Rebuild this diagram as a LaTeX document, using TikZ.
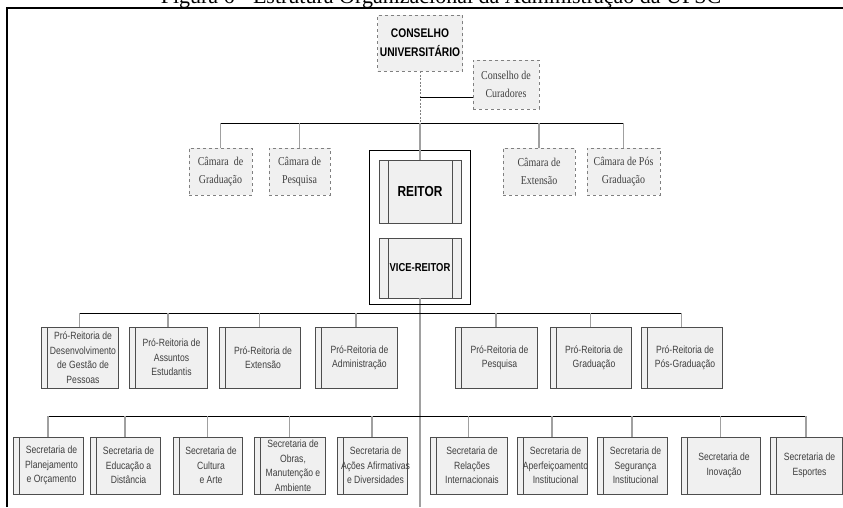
\documentclass[tikz,border=0pt]{standalone}
\usepackage{fontspec}
\setmainfont{Liberation Serif}
\newfontfamily\narrowsans[FakeStretch=0.82]{Liberation Sans}
\newfontfamily\narrowserif[FakeStretch=0.83]{Liberation Serif}
\newfontfamily\captionserif{Liberation Serif}

\definecolor{boxfill}{HTML}{F0F0F0}
\definecolor{boxline}{HTML}{4D4D4D}
\definecolor{dropgray}{HTML}{A0A0A0}
\definecolor{dashgray}{HTML}{808080}
\definecolor{labelgray}{HTML}{404040}

\tikzset{
  x=1pt, y=-1pt,
  framestyle/.style={line width=2pt, black},
  barline/.style={line width=0.9pt, black},
  dropline/.style={line width=1.4pt, dropgray},
  dashline/.style={line width=1pt, dashgray, dash pattern=on 2pt off 1.5pt},
  % dashed council boxes
  councilbox/.style={draw=dashgray, dashed, line width=0.9pt, fill=boxfill,
    inner sep=0pt, align=center},
  chamberbox/.style={councilbox, text=labelgray,
    font=\narrowserif\fontsize{12}{18}\selectfont},
  % boxes with a doubled left edge
  unitbox/.style={draw=boxline, line width=0.8pt, fill=boxfill, inner sep=0pt,
    path picture={\draw[boxline, line width=0.8pt]
      ([xshift=6pt]path picture bounding box.north west) --
      ([xshift=6pt]path picture bounding box.south west);}},
  unittext/.style={inner sep=0pt, align=center, text=labelgray,
    font=\narrowsans\fontsize{10.5}{14.5}\selectfont},
  % boxes with doubled left and right edges
  rectorbox/.style={draw=boxline, line width=0.8pt, fill=boxfill,
    inner sep=0pt, align=center, minimum width=82pt,
    path picture={\draw[boxline, line width=0.8pt]
      ([xshift=9pt]path picture bounding box.north west) --
      ([xshift=9pt]path picture bounding box.south west)
      ([xshift=-9pt]path picture bounding box.north east) --
      ([xshift=-9pt]path picture bounding box.south east);}},
}

% box with doubled left edge and its label: name, x, y, width, height, text
\newcommand{\unitnode}[6]{%
  \node[unitbox, minimum width=#4pt, minimum height=#5pt] (#1) at (#2,#3) {};
  \node[unittext] (#1-label) at ([xshift=3.5pt]#1.center) {#6};}

\begin{document}
\begin{tikzpicture}
\useasboundingbox (0,0) rectangle (843,507);

% heading, cut by the top edge
\node[anchor=base, inner sep=0pt, font=\captionserif\fontsize{22}{22}\selectfont]
  (heading) at (441,3) {Figura 6 - Estrutura Organizacional da Administração da UFSC};

% outer frame
\draw[framestyle] (6.5,507) -- (6.5,7.5) -- (843,7.5);

% junction coordinates
\coordinate (chamberbar) at (420,123);
\coordinate (curj) at (420,97);
\coordinate (probar) at (420,313);
\coordinate (secbar) at (420,416);
\coordinate (spineend) at (420,507);

% top councils
\node[councilbox, minimum width=85pt, minimum height=56pt,
  font=\narrowsans\bfseries\fontsize{12.5}{19}\selectfont] (cons) at (420,43)
  {CONSELHO\\UNIVERSITÁRIO};
\node[chamberbox, minimum width=66pt, minimum height=49pt] (cur) at (506,84.5)
  {Conselho de\\Curadores};

% chambers
\node[chamberbox, minimum width=63pt, minimum height=47pt] (c1) at (220.5,171.5) {Câmara~ de\\Graduação};
\node[chamberbox, minimum width=61pt, minimum height=47pt] (c2) at (299.5,171.5) {Câmara de\\Pesquisa};
\node[chamberbox, minimum width=72pt, minimum height=47pt] (c3) at (539,171.5) {Câmara de\\Extensão};
\node[chamberbox, minimum width=73pt, minimum height=47pt] (c4) at (623.5,171.5) {Câmara de Pós\\Graduação};

% rectorate frame
\node[draw=black, line width=0.9pt, fill=white, minimum width=101pt,
  minimum height=154pt, inner sep=0pt] (rectorate) at (420,227) {};

% connectors of the upper part
\draw[dashline] (cons.south) -- (cons.south |- chamberbar);
\draw[barline] (curj) -- (curj -| cur.west);
\draw[barline] (c1.north |- chamberbar) -- (c4.north |- chamberbar);
\foreach \n in {c1,c2,c3,c4} \draw[dropline] (\n.north |- chamberbar) -- (\n.north);

% rector and vice-rector
\node[rectorbox, minimum height=63pt,
  font=\narrowsans\bfseries\fontsize{14.5}{17}\selectfont] (rei) at (420,191.5) {REITOR};
\node[rectorbox, minimum height=60pt,
  font=\narrowsans\bfseries\fontsize{11.5}{14}\selectfont] (vice) at (420,268) {VICE-REITOR};

\draw[dropline] (chamberbar) -- (rei.north);
\draw[dropline] (vice.south) -- (spineend);
\draw[line width=0.9pt] (rectorate.south west) -- (rectorate.south east);

% pro-rectorates
\unitnode{p1}{79.5}{357.5}{77}{61}{Pró-Reitoria de\\Desenvolvimento\\de Gestão de\\Pessoas}
\unitnode{p2}{168}{357.5}{78}{61}{Pró-Reitoria de\\Assuntos\\Estudantis}
\unitnode{p3}{259.5}{357.5}{81}{61}{Pró-Reitoria de\\Extensão}
\unitnode{p4}{356}{357.5}{82}{61}{Pró-Reitoria de\\Administração}
\unitnode{p5}{496}{357.5}{82}{61}{Pró-Reitoria de\\Pesquisa}
\unitnode{p6}{590.5}{357.5}{81}{61}{Pró-Reitoria de\\Graduação}
\unitnode{p7}{681.5}{357.5}{81}{61}{Pró-Reitoria de\\Pós-Graduação}

\draw[barline] (p1.north |- probar) -- (p7.north |- probar);
\foreach \n in {p1,p2,p3,p4,p5,p6,p7} \draw[dropline] (\n.north |- probar) -- (\n.north);

% secretariats
\unitnode{s1}{48}{465.5}{70}{57}{Secretaria de\\Planejamento\\e Orçamento}
\unitnode{s2}{125}{465.5}{70}{57}{Secretaria de\\Educação a\\Distância}
\unitnode{s3}{207.5}{465.5}{69}{57}{Secretaria de\\Cultura\\e Arte}
\unitnode{s4}{289.5}{465.5}{71}{57}{Secretaria de\\Obras,\\Manutenção e\\Ambiente}
\unitnode{s5}{372}{465.5}{70}{57}{Secretaria de\\Ações Afirmativas\\e Diversidades}
\unitnode{s6}{468.5}{465.5}{77}{57}{Secretaria de\\Relações\\Internacionais}
\unitnode{s7}{552}{465.5}{70}{57}{Secretaria de\\Aperfeiçoamento\\Institucional}
\unitnode{s8}{632}{465.5}{70}{57}{Secretaria de\\Segurança\\Institucional}
\unitnode{s9}{720.5}{465.5}{79}{57}{Secretaria de\\Inovação}
\unitnode{s10}{806}{465.5}{72}{57}{Secretaria de\\Esportes}

\draw[barline] (s1.north |- secbar) -- (s10.north |- secbar);
\foreach \n in {s1,s2,s3,s4,s5,s6,s7,s8,s9,s10} \draw[dropline] (\n.north |- secbar) -- (\n.north);

\end{tikzpicture}
\end{document}
